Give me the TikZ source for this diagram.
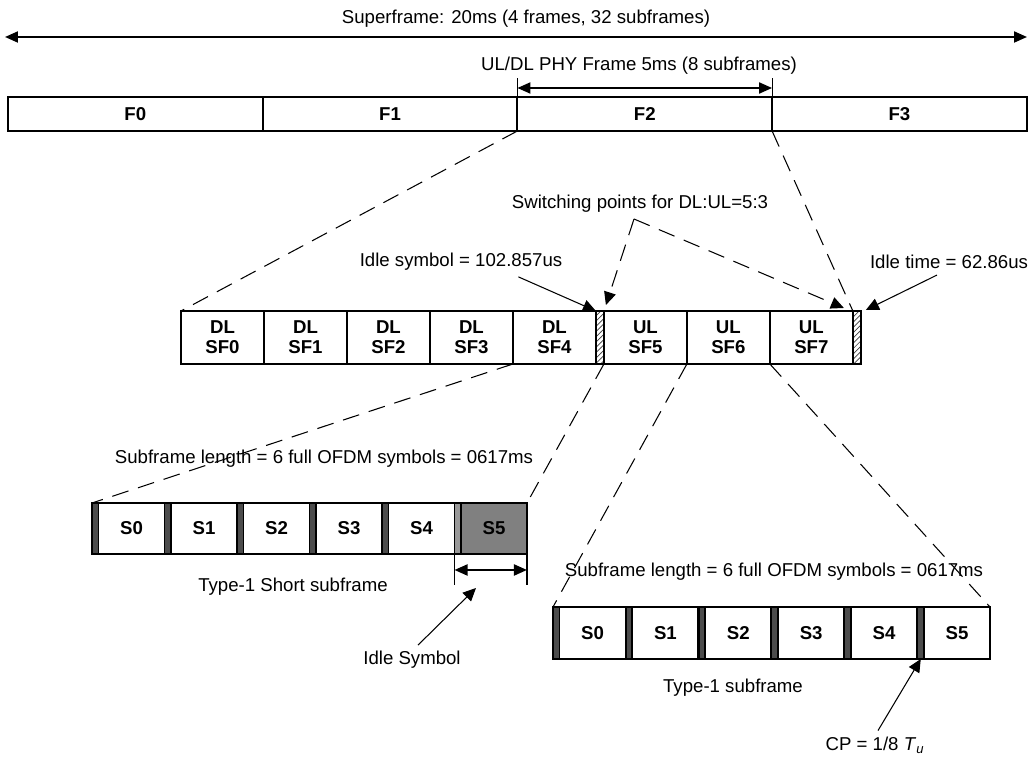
\documentclass[tikz,border=0pt]{standalone}
\usepackage{fontspec}
\setmainfont{Liberation Sans}
\usetikzlibrary{positioning,arrows.meta,patterns}

\begin{document}
\begin{tikzpicture}[x=0.02cm,y=-0.02cm,
  every node/.style={font=\fontsize{10.6}{11.5}\selectfont},
  cell/.style={draw,line width=1.1pt,inner sep=0pt,outer sep=0pt,align=center,font=\fontsize{10.6}{11.5}\selectfont\bfseries},
  fcell/.style={cell,minimum width=5.095cm,minimum height=0.68cm},
  sfcell/.style={cell,minimum width=1.66cm,minimum height=1.06cm},
  idle/.style={draw,line width=1.1pt,inner sep=0pt,outer sep=0pt,minimum width=0.16cm,minimum height=1.06cm,pattern=north east lines,pattern color=black!75},
  cp/.style={draw,line width=0.8pt,inner sep=0pt,outer sep=0pt,minimum width=0.13cm},
  sym/.style={cell,minimum width=1.32cm},
  zoomline/.style={dash pattern=on 0.34cm off 0.2cm,line width=0.6pt},
  pointer/.style={-{Triangle[length=0.26cm,width=0.24cm]},line width=0.6pt},
  dimarrow/.style={{Triangle[length=0.26cm,width=0.22cm]}-{Triangle[length=0.26cm,width=0.22cm]},line width=1.1pt}]
\useasboundingbox (0,0) rectangle (1031,759);

\coordinate (sl) at (5,37);
\coordinate (sr) at (1027,37);
\draw[dimarrow] (sl) -- (sr);
\node (sup) at (526,19) {Superframe: 20ms (4 frames, 32 subframes)};
\node (phy) at (639,66) {UL/DL PHY Frame 5ms (8 subframes)};

\node[fcell,anchor=north west] (f0) at (8,97) {F0};
\node[fcell,right=0pt of f0] (f1) {F1};
\node[fcell,right=0pt of f1] (f2) {F2};
\node[fcell,right=0pt of f2] (f3) {F3};
\draw[line width=0.6pt] (f2.north west) -- ++(0,-19);
\draw[line width=0.6pt] (f2.north east) -- ++(0,-19);
\draw[dimarrow] ([yshift=0.18cm]f2.north west) -- ([yshift=0.18cm]f2.north east);

\node[sfcell,anchor=north west] (d0) at (181,311) {DL\\SF0};
\node[sfcell,right=0pt of d0] (d1) {DL\\SF1};
\node[sfcell,right=0pt of d1] (d2) {DL\\SF2};
\node[sfcell,right=0pt of d2] (d3) {DL\\SF3};
\node[sfcell,right=0pt of d3] (d4) {DL\\SF4};
\node[idle,right=0pt of d4] (idle1) {};
\node[sfcell,right=0pt of idle1] (u5) {UL\\SF5};
\node[sfcell,right=0pt of u5] (u6) {UL\\SF6};
\node[sfcell,right=0pt of u6] (u7) {UL\\SF7};
\node[idle,right=0pt of u7] (idle2) {};

\draw[zoomline] (f2.south west) -- (d0.north west);
\draw[zoomline] (f2.south east) -- (idle2.north west);

\node (swt) at (640,204) {Switching points for DL:UL=5:3};
\coordinate (swp) at (634,219);
\draw[zoomline,pointer] (swp) -- ([shift={(2,-6)}]u5.north west);
\draw[zoomline,pointer] (swp) -- ([shift={(-9,-3)}]idle2.north west);
\node (isym) at (461,262) {Idle symbol = 102.857us};
\draw[pointer] ([xshift=-1cm]isym.south east) -- (idle1.north west);
\node (itime) at (949,262) {Idle time = 62.86us};
\draw[pointer] ([xshift=-0.24cm]itime.south) -- ([shift={(5,-1)}]idle2.north east);

\foreach \i/\c/\f in {0/black!70/white,1/black!70/white,2/black!70/white,3/black!70/white,4/black!70/white,5/black!40/black!50} {
  \node[cp,fill=\c,minimum height=1.02cm,anchor=north west] (ca\i) at ({92+72.5*\i},503) {};
  \node[sym,fill=\f,minimum height=1.02cm,right=0pt of ca\i] (sa\i) {S\i};
}
\node (lenA) at (324,459) {Subframe length = 6 full OFDM symbols = 0617ms};
\node (typA) at (293,587) {Type-1 Short subframe};
\draw[line width=0.6pt] (ca5.south west) -- ++(0,31);
\draw[line width=0.6pt] (sa5.south east) -- ++(0,31);
\draw[dimarrow] ([yshift=-0.32cm]ca5.south west) -- ([yshift=-0.32cm]sa5.south east);
\node (isymb) at (412,660) {Idle Symbol};
\draw[pointer] ([xshift=0.12cm]isymb.north) -- ([shift={(15,34)}]sa5.south west);

\foreach \i in {0,...,5} {
  \node[cp,fill=black!70,minimum height=1.04cm,anchor=north west] (cb\i) at ({553+72.9*\i},607) {};
  \node[sym,minimum height=1.04cm,right=0pt of cb\i] (sb\i) {S\i};
}
\node (lenB) at (774,572) {Subframe length = 6 full OFDM symbols = 0617ms};
\node (typB) at (733,688) {Type-1 subframe};
\node (cpl) at (875,745) {CP = 1/8 \textit{T}\textsubscript{\textit{u}}};
\draw[pointer] ([xshift=0.06cm]cpl.north) -- (cb5.south);

\draw[zoomline] (d4.south west) -- (ca0.north west);
\draw[zoomline] (u5.south west) -- (sa5.north east);
\draw[zoomline] (u6.south west) -- (cb0.north west);
\draw[zoomline] (u7.south west) -- (sb5.north east);
\end{tikzpicture}
\end{document}
